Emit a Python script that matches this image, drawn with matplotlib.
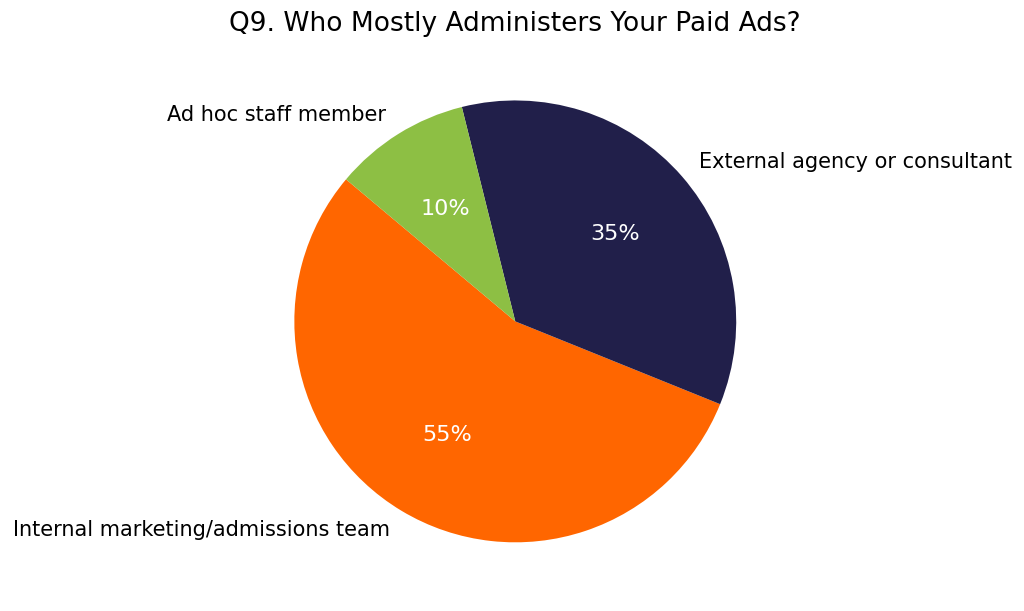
import matplotlib
matplotlib.use("Agg")
import matplotlib.pyplot as plt

labels = ["Internal marketing/admissions team", "External agency or consultant", "Ad hoc staff member"]
shares = [55, 35, 10]
colors = ["#FF6600", "#211F4A", "#8DBF44"]

fig = plt.figure(figsize=(10.24, 6.11), dpi=100)
ax = fig.add_axes([0.2334, 0.022, 0.5396, 0.904])

wedges, texts, autotexts = ax.pie(
    shares, labels=labels, colors=colors, autopct="%1.0f%%",
    startangle=140, textprops={"fontsize": 15},
)
for t in autotexts:
    t.set_color("white")
    t.set_fontsize(16)

ax.set_xlim(-1.25, 1.25)
ax.set_ylim(-1.25, 1.25)
fig.text(0.503, 0.961, "Q9. Who Mostly Administers Your Paid Ads?", ha="center", va="center", fontsize=19)

fig.savefig("out.png", dpi=100)
